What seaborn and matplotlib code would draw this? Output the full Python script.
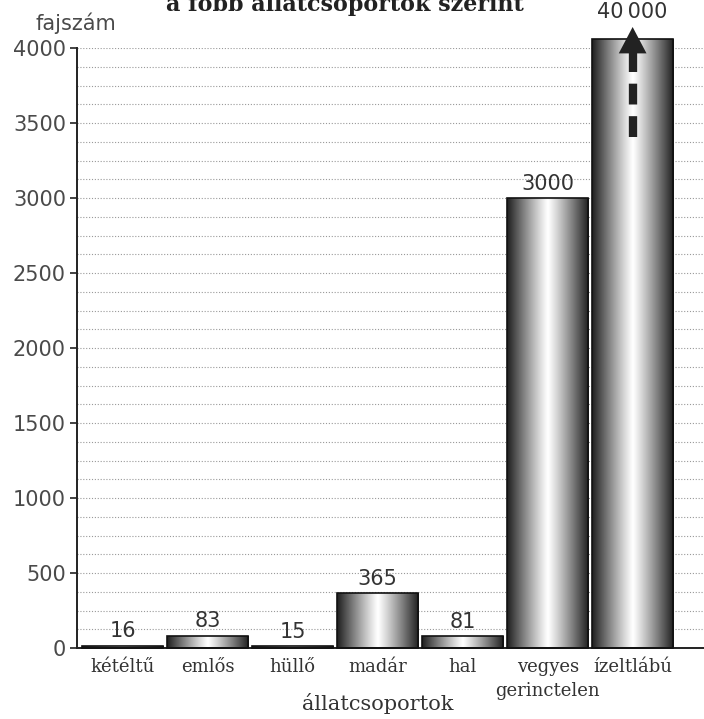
import numpy as np
import pandas as pd
import seaborn as sns
import matplotlib.pyplot as plt
from matplotlib.ticker import FixedLocator

# Data
groups = ["kétéltű", "emlős", "hüllő", "madár", "hal", "vegyes\ngerinctelen", "ízeltlábú"]
species = [16, 83, 15, 365, 81, 3000, 40000]
value_labels = ["16", "83", "15", "365", "81", "3000", "40\u2009000"]
axis_cap = 4060  # the off-scale bar is cut here and gets an arrow

df = pd.DataFrame({"group": groups, "species": species})
df["drawn"] = df["species"].clip(upper=axis_cap)

sns.set_style("white")
plt.rcParams["font.family"] = ["DejaVu Sans"]

fig = plt.figure(figsize=(7.04, 7.19), dpi=100)
ax = fig.add_axes([77 / 704, 71 / 719, 627 / 704, 600 / 719])

sns.barplot(data=df, x="group", y="drawn", color="white", width=0.955,
            edgecolor="#111", linewidth=1.2, ax=ax, zorder=3)

# cylinder-like shading inside each bar
t = np.linspace(0, 1, 256)
shade = 1 - 0.88 * np.abs((t - 0.5) / 0.5) ** 1.1
grad = np.tile(shade, (2, 1))
for p in ax.patches:
    p.set_facecolor("none")
    p.set_clip_on(False)
    x0, w, h = p.get_x(), p.get_width(), p.get_height()
    im = ax.imshow(grad, cmap="gray", vmin=0, vmax=1, aspect="auto",
                   extent=[x0, x0 + w, 0, h], interpolation="bilinear", zorder=2.5)
    im.set_clip_path(p)

# value labels
for i, (v, lab) in enumerate(zip(df["drawn"], value_labels)):
    off = 12 if i == len(groups) - 1 else 3
    ax.annotate(lab, (i, v), xytext=(0, off), textcoords="offset points",
                ha="center", va="bottom", fontsize=15, color="#333",
                annotation_clip=False, zorder=5)

# arrow on the off-scale bar
last = len(groups) - 1
ax.plot([last, last], [axis_cap - 653, axis_cap - 93], color="#222", lw=6,
        dashes=(2.5, 1.4), solid_capstyle="butt", zorder=4, clip_on=False)
ax.annotate("", xy=(last, axis_cap + 80), xytext=(last, axis_cap - 100),
            arrowprops=dict(arrowstyle="-|>,head_length=0.95,head_width=0.5",
                            mutation_scale=20, color="#222", lw=0,
                            shrinkA=0, shrinkB=0),
            annotation_clip=False, zorder=4)

ax.set_xlim(-0.54, 6.84)
ax.set_ylim(0, 4000)
ax.set_yticks(range(0, 4001, 500))
ax.yaxis.set_minor_locator(FixedLocator(np.arange(125, 4001, 125)))
ax.grid(axis="y", which="both", color="#999", linestyle=(0, (1, 1.6)), lw=0.8)
ax.set_axisbelow(True)

for s in ["top", "right"]:
    ax.spines[s].set_visible(False)
for s in ["left", "bottom"]:
    ax.spines[s].set_color("#222")
    ax.spines[s].set_linewidth(1.4)

ax.tick_params(axis="y", which="major", left=True, length=5, width=1.2,
               color="#222", labelsize=15, labelcolor="#4a4a4a", pad=3)
ax.tick_params(axis="y", which="minor", left=False)
ax.tick_params(axis="x", length=0, pad=7)
for lab in ax.get_xticklabels():
    lab.set_fontfamily("DejaVu Serif")
    lab.set_fontsize(13)
    lab.set_color("#333")
    lab.set_linespacing(1.45)

ax.set_ylabel("")
ax.set_xlabel("állatcsoportok", fontsize=15, family="DejaVu Serif", color="#333")
ax.xaxis.set_label_coords((378 - 77) / 627, (648 - 693) / 600)

fig.text(76 / 704, 1 - 30 / 719, "fajszám", ha="center", va="baseline",
         fontsize=15, color="#4a4a4a")
fig.text(345 / 704, 1 - 11 / 719, "a főbb állatcsoportok szerint", ha="center",
         va="baseline", fontsize=16, weight="bold", family="DejaVu Serif", color="#222")

fig.savefig("out.png", dpi=100)
